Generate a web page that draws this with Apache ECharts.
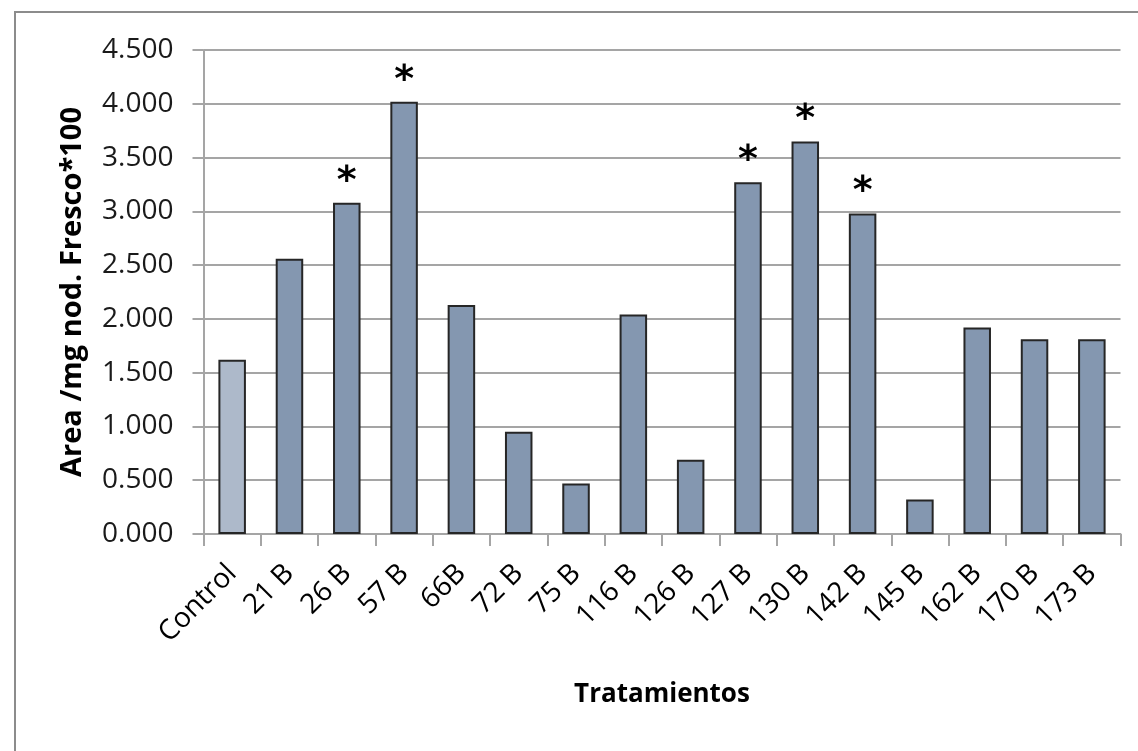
<!DOCTYPE html>
<html>
<head>
<meta charset="utf-8">
<script src="https://cdn.jsdelivr.net/npm/echarts@6/dist/echarts.min.js"></script>
<style>
  html, body { margin: 0; padding: 0; background: #fff; }
  #chart { width: 1138px; height: 751px; }
</style>
</head>
<body>
<div id="chart"></div>
<script>
// Treatments (strains) on the x axis
const categories = ['Control', '21 B', '26 B', '57 B', '66B', '72 B', '75 B', '116 B',
  '126 B', '127 B', '130 B', '142 B', '145 B', '162 B', '170 B', '173 B'];
// Area per mg of fresh nodule (x100)
const values = [1.62, 2.56, 3.08, 4.02, 2.13, 0.95, 0.47, 2.04,
  0.69, 3.27, 3.65, 2.98, 0.32, 1.92, 1.81, 1.81];
// Treatments marked as significant (asterisk above the bar)
const significant = ['26 B', '57 B', '127 B', '130 B', '142 B'];
// Y axis range and step
const yMin = 0, yMax = 4.5, yStep = 0.5;

const controlColor = '#ADB9CA';
const barColor = '#8497B0';
const gridGray = '#A5A5A5';

const seriesData = categories.map((c, i) => ({
  value: values[i],
  itemStyle: { color: c === 'Control' ? controlColor : barColor },
  label: { show: significant.includes(c) }
}));

const chart = echarts.init(document.getElementById('chart'));
chart.setOption({
  backgroundColor: '#fff',
  animation: false,
  grid: { left: 203.5, right: 17.5, top: 50, bottom: 217, containLabel: false },
  graphic: [{
    type: 'rect',
    shape: { x: 15, y: 12, width: 1200, height: 800 },
    style: { fill: 'none', stroke: '#8C8C8C', lineWidth: 2 },
    silent: true
  }],
  xAxis: {
    type: 'category',
    data: categories,
    name: 'Tratamientos',
    nameLocation: 'middle',
    nameGap: 148,
    nameTextStyle: { fontFamily: 'Open Sans', fontWeight: 'bold', fontSize: 26, color: '#000' },
    axisLine: { lineStyle: { color: gridGray, width: 2 } },
    axisTick: { show: true, length: 12, lineStyle: { color: gridGray, width: 2 }, alignWithLabel: false },
    axisLabel: {
      rotate: 45, margin: 35, interval: 0,
      fontFamily: 'Open Sans', fontSize: 28, color: '#000'
    }
  },
  yAxis: {
    type: 'value',
    min: yMin, max: yMax, interval: yStep,
    name: 'Area /mg nod. Fresco*100',
    nameLocation: 'middle',
    nameGap: 116,
    nameRotate: 90,
    nameTextStyle: { fontFamily: 'Open Sans', fontWeight: 'bold', fontSize: 29, color: '#000' },
    axisLine: { show: true, lineStyle: { color: gridGray, width: 2 } },
    axisTick: { show: true, length: 11, lineStyle: { color: gridGray, width: 2 } },
    axisLabel: {
      margin: 30, fontFamily: 'Open Sans', fontSize: 28, color: '#1a1a1a',
      formatter: v => v.toFixed(3)
    },
    splitLine: { show: true, lineStyle: { color: gridGray, width: 2 } }
  },
  series: [{
    type: 'bar',
    data: seriesData,
    barWidth: '48%',
    itemStyle: { borderColor: '#262626', borderWidth: 2 },
    label: {
      position: 'top', distance: 2, formatter: '*',
      fontFamily: 'DejaVu Sans', fontWeight: 'bold', fontSize: 38, color: '#000'
    }
  }]
});
</script>
</body>
</html>
